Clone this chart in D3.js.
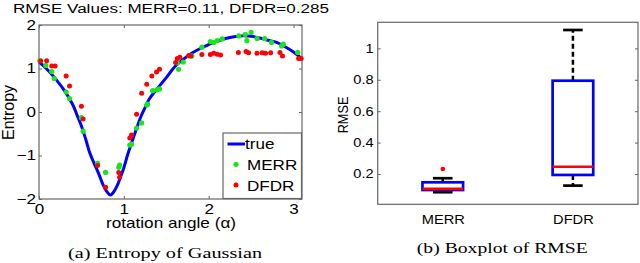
<!DOCTYPE html>
<html>
<head>
<meta charset="utf-8">
<script src="https://cdn.jsdelivr.net/npm/d3@7"></script>
<style>
  body { margin: 0; background: #fff; }
  svg { display: block; }
</style>
</head>
<body>
<script>
// ---- data ----
var trueAngle   = [0.00, 0.10, 0.20, 0.30, 0.40, 0.45, 0.50, 0.55, 0.60, 0.65, 0.70, 0.75, 0.80, 0.84, 0.88, 0.92, 0.96, 1.00, 1.05, 1.10, 1.15, 1.20, 1.25, 1.30, 1.40, 1.50, 1.60, 1.70, 1.80, 1.90, 2.00, 2.10, 2.20, 2.30, 2.40, 2.50, 2.60, 2.70, 2.80, 2.90, 3.00, 3.10];
var trueEntropy = [1.15, 0.97, 0.75, 0.49, 0.16, -0.08, -0.32, -0.62, -0.95, -1.18, -1.40, -1.65, -1.83, -1.91, -1.84, -1.70, -1.50, -1.28, -0.95, -0.66, -0.38, -0.11, 0.10, 0.30, 0.55, 0.79, 1.04, 1.21, 1.35, 1.46, 1.55, 1.63, 1.69, 1.73, 1.75, 1.74, 1.70, 1.65, 1.60, 1.50, 1.38, 1.22];

var merrAngle   = [0.01, 0.08, 0.15, 0.18, 0.32, 0.36, 0.50, 0.52, 0.69, 0.785, 0.94, 0.95, 1.07, 1.09, 1.15, 1.21, 1.27, 1.28, 1.34, 1.39, 1.42, 1.63, 1.645, 1.70, 1.77, 1.80, 1.92, 2.02, 2.06, 2.10, 2.16, 2.355, 2.43, 2.45, 2.50, 2.57, 2.66, 2.74, 2.86, 2.88, 3.05];
var merrEntropy = [1.18, 1.07, 0.93, 0.77, 0.46, 0.31, -0.13, -0.44, -1.18, -1.39, -1.27, -1.22, -0.76, -0.74, -0.37, -0.25, 0.16, 0.18, 0.49, 0.51, 0.53, 1.13, 0.98, 1.15, 1.29, 1.29, 1.49, 1.62, 1.60, 1.64, 1.68, 1.75, 1.78, 1.64, 1.83, 1.69, 1.69, 1.60, 1.52, 1.56, 1.37];

var dfdrAngle   = [0.02, 0.09, 0.15, 0.19, 0.32, 0.36, 0.50, 0.52, 0.69, 0.785, 0.94, 0.95, 1.07, 1.09, 1.15, 1.21, 1.27, 1.33, 1.385, 1.42, 1.61, 1.63, 1.66, 1.765, 1.79, 1.92, 2.02, 2.06, 2.10, 2.14, 2.35, 2.44, 2.47, 2.57, 2.63, 2.67, 2.73, 2.84, 2.87, 3.06, 3.09];
var dfdrEntropy = [1.17, 1.18, 1.06, 1.06, 0.83, 0.60, 0.13, -0.16, -1.23, -1.73, -1.39, -1.50, -0.60, -0.53, -0.05, 0.43, 0.64, 0.83, 0.92, 0.98, 1.14, 1.23, 1.26, 1.30, 1.29, 1.32, 1.32, 1.35, 1.33, 1.31, 1.37, 1.39, 1.36, 1.35, 1.36, 1.35, 1.36, 1.37, 1.29, 1.23, 1.23];

var xTicksA = [0, 1, 2, 3];
var yTicksA = [-2, -1, 0, 1, 2];

var boxNames        = ["MERR", "DFDR"];
var boxLowWhisker   = [0.084, 0.126];
var boxQ1           = [0.098, 0.194];
var boxMedian       = [0.105, 0.246];
var boxQ3           = [0.147, 0.794];
var boxHighWhisker  = [0.173, 1.117];
var boxOutliers     = [[0.232], []];
var yTicksB = [0.2, 0.4, 0.6, 0.8, 1];

// ---- layout ----
var W = 640, H = 263;
var SX = 1.22; // picture is stretched sideways
var axisCol = "#666";
var sans = "'Liberation Sans', Arial, sans-serif";
var serif = "'Liberation Serif', 'Times New Roman', serif";

var svg = d3.select("body").append("svg")
  .attr("width", W).attr("height", H);

function addText(g, x, y, str, o){
  o = o || {};
  var tr = "translate(" + x + "," + y + ")";
  tr += o.rotate ? " rotate(" + o.rotate + ") scale(1," + SX + ")" : " scale(" + SX + ",1)";
  var t = g.append("text")
    .attr("transform", tr)
    .attr("text-anchor", o.anchor || "start")
    .style("font-family", o.font || sans)
    .style("font-size", (o.size || 14) + "px")
    .attr("fill", "#000")
    .text(str);
  if (o.len) {
    t.attr("textLength", o.rotate ? o.len : o.len / SX)
     .attr("lengthAdjust", "spacingAndGlyphs");
  }
  return t;
}

function styleAxis(g, size){
  g.select(".domain").remove();
  g.selectAll("line").attr("stroke", axisCol);
  g.selectAll("text")
    .attr("fill", "#000")
    .style("font-family", sans)
    .style("font-size", size + "px")
    .attr("transform", "scale(" + SX + ",1)");
}

// ================= panel (a) =================
var xA = d3.scaleLinear().domain([0, 3.1]).range([39, 302]);
var yA = d3.scaleLinear().domain([-2, 2]).range([199, 25]);
var pa = svg.append("g");

pa.append("g").attr("transform", "translate(0,199)")
  .call(d3.axisBottom(xA).tickValues(xTicksA).tickSizeInner(-3).tickSizeOuter(0).tickPadding(5).tickFormat(d3.format("d")))
  .call(styleAxis, 14);
pa.append("g").attr("transform", "translate(0,25)")
  .call(d3.axisTop(xA).tickValues(xTicksA).tickSizeInner(-3).tickSizeOuter(0).tickFormat(""))
  .call(styleAxis, 14);
pa.append("g").attr("transform", "translate(39,0)")
  .call(d3.axisLeft(yA).tickValues(yTicksA).tickSizeInner(-3).tickSizeOuter(0).tickPadding(3 / SX).tickFormat(d3.format("d")))
  .call(styleAxis, 14);
pa.append("g").attr("transform", "translate(302,0)")
  .call(d3.axisRight(yA).tickValues(yTicksA).tickSizeInner(-3).tickSizeOuter(0).tickFormat(""))
  .call(styleAxis, 14);

pa.append("rect")
  .attr("x", xA(0)).attr("y", yA(2))
  .attr("width", xA(3.1) - xA(0)).attr("height", yA(-2) - yA(2))
  .attr("fill", "none").attr("stroke", axisCol).attr("stroke-width", 1.2);

var trueLine = d3.line()
  .x(function(d, i){ return xA(trueAngle[i]); })
  .y(function(d){ return yA(d); })
  .curve(d3.curveCatmullRom);

pa.append("path")
  .datum(trueEntropy)
  .attr("d", trueLine)
  .attr("fill", "none")
  .attr("stroke", "#0000ff")
  .attr("stroke-width", 3);

pa.selectAll(".merr")
  .data(merrEntropy)
  .enter().append("circle")
  .classed("merr", true)
  .attr("cx", function(d, i){ return xA(merrAngle[i]); })
  .attr("cy", function(d){ return yA(d); })
  .attr("r", 2.6)
  .attr("fill", "#19e619");

pa.selectAll(".dfdr")
  .data(dfdrEntropy)
  .enter().append("circle")
  .classed("dfdr", true)
  .attr("cx", function(d, i){ return xA(dfdrAngle[i]); })
  .attr("cy", function(d){ return yA(d); })
  .attr("r", 2.5)
  .attr("fill", "#ff0000");

// legend
var lg = pa.append("g");
lg.append("rect")
  .attr("x", 223).attr("y", 133).attr("width", 78.5).attr("height", 65.5)
  .attr("fill", "#fff").attr("stroke", axisCol).attr("stroke-width", 1.2);
lg.append("line")
  .attr("x1", 227.5).attr("x2", 245).attr("y1", 144).attr("y2", 144)
  .attr("stroke", "#0000ff").attr("stroke-width", 3);
addText(lg, 245, 148.5, "true", {size: 14});
lg.append("circle").attr("cx", 236).attr("cy", 164.3).attr("r", 2.6).attr("fill", "#19e619");
addText(lg, 247, 169.5, "MERR", {size: 14});
lg.append("circle").attr("cx", 236).attr("cy", 185).attr("r", 2.5).attr("fill", "#ff0000");
addText(lg, 247, 190.5, "DFDR", {size: 14});

addText(pa, 171, 13, "RMSE Values: MERR=0.11, DFDR=0.285", {anchor: "middle", size: 13.5, len: 316});
addText(pa, 171, 228, "rotation angle (\u03b1)", {anchor: "middle", size: 14, len: 130});
addText(pa, 14, 112.5, "Entropy", {anchor: "middle", size: 13.5, rotate: -90, len: 55});
addText(pa, 165, 257.5, "(a) Entropy of Gaussian", {anchor: "middle", size: 14, font: serif, len: 194});

// ================= panel (b) =================
var xB = d3.scaleLinear().domain([0.5, 2.5]).range([377.7, 638]);
var yB = d3.scaleLinear().domain([0.007, 1.166]).range([204.3, 22.3]);
var pb = svg.append("g");

pb.append("g").attr("transform", "translate(377.7,0)")
  .call(d3.axisLeft(yB).tickValues(yTicksB).tickSizeInner(-3).tickSizeOuter(0).tickPadding(4 / SX)
    .tickFormat(function(d){ return d === 1 ? "1" : d3.format(".1f")(d); }))
  .call(styleAxis, 12);
pb.append("g").attr("transform", "translate(638,0)")
  .call(d3.axisRight(yB).tickValues(yTicksB).tickSizeInner(-3).tickSizeOuter(0).tickFormat(""))
  .call(styleAxis, 12);
pb.append("g").attr("transform", "translate(0,204.3)")
  .call(d3.axisBottom(xB).tickValues([1, 2]).tickSize(0).tickPadding(11)
    .tickFormat(function(d){ return boxNames[d - 1]; }))
  .call(styleAxis, 12);

pb.append("rect")
  .attr("x", 377.7).attr("y", 22.3)
  .attr("width", 638 - 377.7).attr("height", 204.3 - 22.3)
  .attr("fill", "none").attr("stroke", axisCol).attr("stroke-width", 1.2);

var boxW = 0.312, capW = 0.15;
var boxes = pb.selectAll(".box")
  .data(boxNames)
  .enter().append("g")
  .classed("box", true);

// whiskers
boxes.append("line")
  .attr("x1", function(d, i){ return xB(i + 1); })
  .attr("x2", function(d, i){ return xB(i + 1); })
  .attr("y1", function(d, i){ return yB(boxQ3[i]); })
  .attr("y2", function(d, i){ return yB(boxHighWhisker[i]); })
  .attr("stroke", "#000").attr("stroke-width", 2.5).attr("stroke-dasharray", "5,3");
boxes.append("line")
  .attr("x1", function(d, i){ return xB(i + 1); })
  .attr("x2", function(d, i){ return xB(i + 1); })
  .attr("y1", function(d, i){ return yB(boxQ1[i]); })
  .attr("y2", function(d, i){ return yB(boxLowWhisker[i]); })
  .attr("stroke", "#000").attr("stroke-width", 2.5).attr("stroke-dasharray", "5,3");
// caps
[boxHighWhisker, boxLowWhisker].forEach(function(arr){
  boxes.append("line")
    .attr("x1", function(d, i){ return xB(i + 1 - capW / 2); })
    .attr("x2", function(d, i){ return xB(i + 1 + capW / 2); })
    .attr("y1", function(d, i){ return yB(arr[i]); })
    .attr("y2", function(d, i){ return yB(arr[i]); })
    .attr("stroke", "#000").attr("stroke-width", 2.7);
});
// box
boxes.append("rect")
  .attr("x", function(d, i){ return xB(i + 1 - boxW / 2); })
  .attr("y", function(d, i){ return yB(boxQ3[i]); })
  .attr("width", function(d, i){ return xB(i + 1 + boxW / 2) - xB(i + 1 - boxW / 2); })
  .attr("height", function(d, i){ return yB(boxQ1[i]) - yB(boxQ3[i]); })
  .attr("fill", "none").attr("stroke", "#0000ff").attr("stroke-width", 2.7);
// median
boxes.append("line")
  .attr("x1", function(d, i){ return xB(i + 1 - boxW / 2); })
  .attr("x2", function(d, i){ return xB(i + 1 + boxW / 2); })
  .attr("y1", function(d, i){ return yB(boxMedian[i]); })
  .attr("y2", function(d, i){ return yB(boxMedian[i]); })
  .attr("stroke", "#ff0000").attr("stroke-width", 2.7);
// outliers
boxes.each(function(d, i){
  d3.select(this).selectAll(".out")
    .data(boxOutliers[i])
    .enter().append("circle")
    .classed("out", true)
    .attr("cx", xB(i + 1))
    .attr("cy", function(v){ return yB(v); })
    .attr("r", 2.3)
    .attr("fill", "#ff0000");
});

addText(pb, 348, 115, "RMSE", {anchor: "middle", size: 12, rotate: -90, len: 36.7});
addText(pb, 502.3, 253, "(b) Boxplot of RMSE", {anchor: "middle", size: 14, font: serif, len: 171});
</script>
</body>
</html>
